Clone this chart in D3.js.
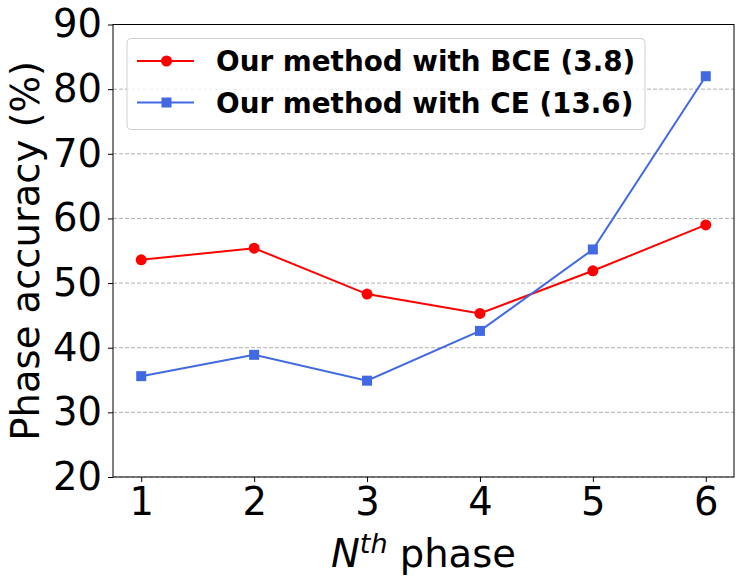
<!DOCTYPE html>
<html>
<head>
<meta charset="utf-8">
<script src="https://cdn.jsdelivr.net/npm/d3@7"></script>
<style>
  body { margin: 0; background: #fff; }
  text { font-family: "DejaVu Sans", sans-serif; }
</style>
</head>
<body>
<svg id="canvas"></svg>
<script>
const phases = [1, 2, 3, 4, 5, 6];
const bceValues = [53.6, 55.4, 48.3, 45.3, 51.9, 59.0];
const ceValues = [35.6, 38.9, 34.9, 42.6, 55.2, 82.0];
const yTicks = [20, 30, 40, 50, 60, 70, 80, 90];
const seriesNames = ["Our method with BCE (3.8)", "Our method with CE (13.6)"];

const width = 746, height = 588;
const margin = { top: 24.5, right: 12, bottom: 111, left: 113 };
const w = width - margin.left - margin.right;
const h = height - margin.top - margin.bottom;

const svg = d3.select("#canvas").attr("width", width).attr("height", height);
const g = svg.append("g").attr("transform", `translate(${margin.left},${margin.top})`);

const x = d3.scaleLinear().domain([0.75, 6.25]).range([0, w]);
const y = d3.scaleLinear().domain([20, 90]).range([h, 0]);

// dashed horizontal grid
g.selectAll("line.grid")
  .data(yTicks)
  .enter()
  .append("line")
  .attr("class", "grid")
  .attr("x1", 0).attr("x2", w)
  .attr("y1", d => y(d)).attr("y2", d => y(d))
  .attr("stroke", "#b0b0b0")
  .attr("stroke-width", 1)
  .attr("stroke-dasharray", "4,2");

// axes
const xAxis = g.append("g")
  .attr("transform", `translate(0,${h})`)
  .call(d3.axisBottom(x).tickValues(phases).tickSize(5).tickPadding(6).tickFormat(d3.format("d")));
const yAxis = g.append("g")
  .call(d3.axisLeft(y).tickValues(yTicks).tickSize(5).tickPadding(6));
[xAxis, yAxis].forEach(a => {
  a.select(".domain").remove();
  a.selectAll("line").attr("stroke", "#000").attr("stroke-width", 1);
  a.selectAll("text").attr("font-size", 38.5).attr("fill", "#000")
    .attr("font-family", "DejaVu Sans");
});

// frame
g.append("rect")
  .attr("x", 0).attr("y", 0).attr("width", w).attr("height", h)
  .attr("fill", "none").attr("stroke", "#000").attr("stroke-width", 1);

const line = d3.line().x((d, i) => x(phases[i])).y(d => y(d));

// BCE series
g.append("path").datum(bceValues)
  .attr("fill", "none").attr("stroke", "red").attr("stroke-width", 2).attr("d", line);
g.selectAll("circle.bce").data(bceValues).enter().append("circle")
  .attr("class", "bce")
  .attr("cx", (d, i) => x(phases[i])).attr("cy", d => y(d))
  .attr("r", 5.5).attr("fill", "red");

// CE series
g.append("path").datum(ceValues)
  .attr("fill", "none").attr("stroke", "royalblue").attr("stroke-width", 2).attr("d", line);
g.selectAll("rect.ce").data(ceValues).enter().append("rect")
  .attr("class", "ce")
  .attr("x", (d, i) => x(phases[i]) - 5).attr("y", d => y(d) - 5)
  .attr("width", 10).attr("height", 10).attr("fill", "royalblue");

// legend
const leg = g.append("g").attr("transform", "translate(14,14)");
leg.append("rect")
  .attr("width", 518).attr("height", 91).attr("rx", 4)
  .attr("fill", "#fff").attr("fill-opacity", 0.8)
  .attr("stroke", "#d0d0d0").attr("stroke-width", 1);
const rows = [
  { name: seriesNames[0], color: "red", shape: "circle" },
  { name: seriesNames[1], color: "royalblue", shape: "square" }
];
rows.forEach((r, i) => {
  const cy = 22.5 + i * 41.5;
  leg.append("line").attr("x1", 10).attr("x2", 67).attr("y1", cy).attr("y2", cy)
    .attr("stroke", r.color).attr("stroke-width", 2);
  if (r.shape === "circle") {
    leg.append("circle").attr("cx", 39.5).attr("cy", cy).attr("r", 5.5).attr("fill", r.color);
  } else {
    leg.append("rect").attr("x", 34.5).attr("y", cy - 5).attr("width", 10).attr("height", 10).attr("fill", r.color);
  }
  leg.append("text").attr("x", 89).attr("y", cy).attr("dy", "0.36em")
    .attr("font-size", 27.8).attr("font-weight", "bold").text(r.name);
});

// axis titles
svg.append("text")
  .attr("transform", `translate(38.5,${margin.top + h / 2}) rotate(-90)`)
  .attr("text-anchor", "middle")
  .attr("font-size", 38.5)
  .text("Phase accuracy (%)");

const xl = svg.append("text")
  .attr("x", margin.left + w / 2).attr("y", 567)
  .attr("text-anchor", "middle")
  .attr("font-size", 38.5);
xl.append("tspan").attr("font-style", "italic").text("N");
xl.append("tspan").attr("font-style", "italic").attr("font-size", 27).attr("dy", -14).text("th");
xl.append("tspan").attr("dy", 14).text(" phase");
</script>
</body>
</html>
